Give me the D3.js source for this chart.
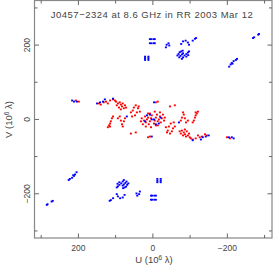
<!DOCTYPE html>
<html><head><meta charset="utf-8">
<script src="https://cdn.jsdelivr.net/npm/d3@7"></script>
<style>
html,body{margin:0;padding:0;background:#fff;}
svg{display:block;}
text{font-family:"Liberation Sans",Arial,sans-serif;fill:#444;}
</style></head>
<body><svg id="c" width="273" height="266"></svg>
<script>
// ---- data (u, v in 10^6 wavelengths); conjugate points (-u,-v) are also plotted ----
const title = "J0457\u22122324 at 8.6 GHz in RR 2003 Mar 12";
const xTickLabels = [200, 0, -200];
const yTickLabels = [200, 0, -200];
const blueOuter = [
  [8,216],[4,216],[-2,216],[-5,216],[8,205],[4,205],[-2,205],[-5,205],
  [21,169],[12,169],[21,160],[12,160],[21,165],[12,165],
  [-35,194],[-37,201],[-42,205],[-44,199],
  [-76,203],[-81,210],[-88,212],[-94,207],[-97,201],[-107,212],[-113,217],[-116,219],
  [-66,172],[-69,176],[-72,181],[-76,183],[-80,185],[-71,167],[-74,171],[-78,175],[-81,178],
  [-78,163],[-81,167],[-85,172],[-90,176],[-94,180],[-97,183],[-90,169],[-95,173],
  [-205,142],[-209,148],[-212,152],[-217,157],[-223,160],[-226,163],[-214,150],
  [-269,219],[-272,221],[-283,228],[-285,230]
];
const blueInner = [
  [217,51],[212,48],[204,48],
  [150,43],[142,46],[134,48],[129,54],[107,56],[70,8],[3,-46],
  [16,11],[8,13],[3,0],[21,-5]
];
const redInner = [
  [207,51],[199,48],
  [145,43],[140,40],[132,46],[126,48],[121,43],[115,51],[107,54],[102,51],[99,48],[94,43],
  [89,46],[86,40],[83,35],[81,43],[78,30],[75,38],[72,32],[91,32],[97,38],[86,27],
  [59,19],[54,24],[51,32],[46,38],[40,30],[38,35],[43,19],[48,11],[35,21],[56,8],
  [121,-21],[118,-16],[115,-11],[113,-5],[110,3],[107,8],[115,-19],[94,3],[89,8],
  [86,-3],[83,-13],[81,-19],[78,-5],[75,3],
  [59,-38],[46,-35],[13,-48],[8,-46],
  [30,3],[24,-3],[21,8],[19,-8],[16,0],[13,5],[11,-13],[8,-5],[5,3],[3,11],
  [27,-13],[19,-19],[5,-21],[8,16],[32,-5],[13,16]
];

const withConj = a => a.concat(a.map(([u,v]) => [-u,-v]));
const bluePts = withConj(blueOuter.concat(blueInner));
const redPts = withConj(redInner);

const svg = d3.select("#c");
const L = 34.5, R = 272, T = 0.5, B = 238;
const x = d3.scaleLinear().domain([318, -320]).range([L, R]);
const y = d3.scaleLinear().domain([320, -319]).range([T, B]);

// points
function draw(pts, col){
  svg.append("g").selectAll("rect").data(pts).join("rect")
    .attr("x", d => x(d[0]) - 1).attr("y", d => y(d[1]) - 0.9)
    .attr("width", 2).attr("height", 1.8).attr("fill", col);
}
draw(redPts, "#ff0000");
draw(bluePts, "#0000ff");

// frame
svg.append("rect").attr("x", L).attr("y", T).attr("width", R - L).attr("height", B - T)
  .attr("fill", "none").attr("stroke", "#888").attr("stroke-width", 1.2);

// ticks (inward)
const g = svg.append("g").attr("stroke", "#666").attr("stroke-width", 1);
const ticks = [-300,-200,-100,0,100,200,300];
ticks.forEach(t => {
  const len = (t % 200 === 0) ? 4.5 : 3;
  g.append("line").attr("x1", x(t)).attr("x2", x(t)).attr("y1", B).attr("y2", B - len);
  g.append("line").attr("x1", x(t)).attr("x2", x(t)).attr("y1", T).attr("y2", T + len);
  g.append("line").attr("y1", y(t)).attr("y2", y(t)).attr("x1", L).attr("x2", L + len);
  g.append("line").attr("y1", y(t)).attr("y2", y(t)).attr("x1", R).attr("x2", R - len);
});

const fmt = v => v < 0 ? "\u2212" + Math.abs(v) : String(v);
// x tick labels
svg.append("g").selectAll("text").data(xTickLabels).join("text")
  .attr("x", d => x(d)).attr("y", 251).attr("text-anchor", "middle")
  .attr("font-size", 8.5).text(fmt);
// y tick labels (rotated)
svg.append("g").selectAll("text").data(yTickLabels).join("text")
  .attr("transform", d => `translate(29.5,${y(d)}) rotate(-90)`)
  .attr("text-anchor", "middle").attr("font-size", 8.5).text(fmt);

// title
svg.append("text").attr("x", 152).attr("y", 18).attr("text-anchor", "middle")
  .attr("font-size", 9.5).attr("letter-spacing", 0.5).text(title);

// axis titles
const xt = svg.append("text").attr("x", 154).attr("y", 263).attr("text-anchor", "middle").attr("font-size", 9.5);
xt.append("tspan").text("U (10");
xt.append("tspan").attr("dy", -3.5).attr("font-size", 6.5).text("6");
xt.append("tspan").attr("dy", 3.5).text(" \u03bb)");
const yt = svg.append("text").attr("transform", `translate(12,${y(0)}) rotate(-90)`).attr("text-anchor", "middle").attr("font-size", 9.5);
yt.append("tspan").text("V (10");
yt.append("tspan").attr("dy", -3.5).attr("font-size", 6.5).text("6");
yt.append("tspan").attr("dy", 3.5).text(" \u03bb)");
</script></body></html>
